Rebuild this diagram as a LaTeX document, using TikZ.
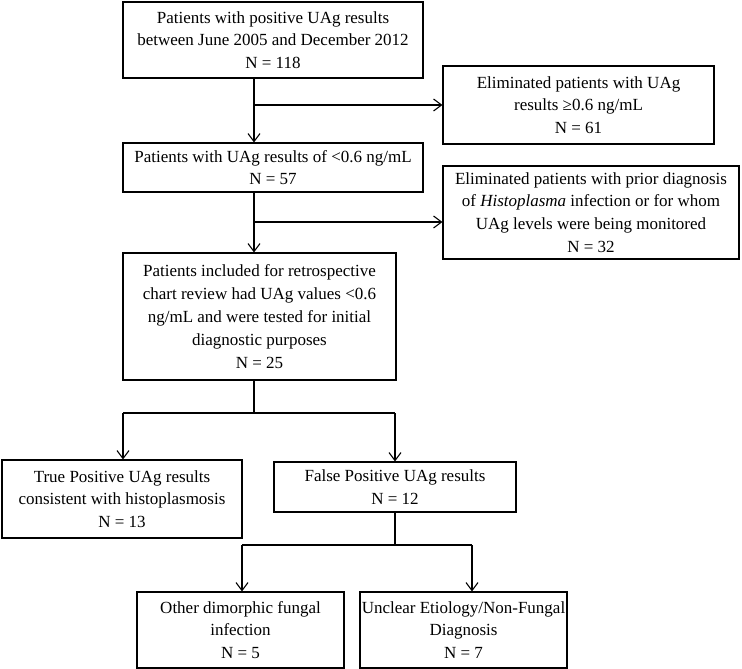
\documentclass[tikz,border=0pt]{standalone}
\usepackage{fontspec}
\setmainfont{Liberation Serif}
\usetikzlibrary{arrows.meta}
\begin{document}
\begin{tikzpicture}[x=1pt,y=-1pt,
  box/.style={draw, line width=1.1pt, align=center, inner sep=0pt,
    font=\fontsize{17}{22.8}\selectfont},
  conn/.style={line width=1.1pt},
  arr/.style={conn, -{Straight Barb[length=8pt,width=12pt]}}]
\useasboundingbox (0,0) rectangle (742,669);

\node[box, minimum width=300pt, minimum height=76pt] (b1) at (273,40)
  {Patients with positive UAg results\\between June 2005 and December 2012\\N = 118};
\node[box, minimum width=271pt, minimum height=78pt] (e1) at (578.5,105)
  {Eliminated patients with UAg\\results ≥0.6 ng/mL\\N = 61};
\node[box, minimum width=300pt, minimum height=49pt] (b2) at (273,167.5)
  {Patients with UAg results of <0.6 ng/mL\\N = 57};
\node[box, minimum width=296pt, minimum height=93pt] (e2) at (591,212.5)
  {Eliminated patients with prior diagnosis\\of \textit{Histoplasma} infection or for whom\\UAg levels were being monitored\\N = 32};
\node[box, minimum width=273pt, minimum height=127pt] (b3) at (259.5,316.5)
  {Patients included for retrospective\\chart review had UAg values <0.6\\ng/mL and were tested for initial\\diagnostic purposes\\N = 25};
\node[box, minimum width=240pt, minimum height=78pt] (tp) at (122,499)
  {True Positive UAg results\\consistent with histoplasmosis\\N = 13};
\node[box, minimum width=242pt, minimum height=50pt] (fp) at (395,487)
  {False Positive UAg results\\N = 12};
\node[box, minimum width=207pt, minimum height=76pt] (ot) at (240.5,630)
  {Other dimorphic fungal\\infection\\N = 5};
\node[box, minimum width=207pt, minimum height=76pt] (un) at (463.5,630)
  {Unclear Etiology/Non-Fungal\\Diagnosis\\N = 7};

% first stage
\coordinate (s1) at (254,78);
\coordinate (j1) at (254,105);
\draw[arr] (s1 |- b1.south) -- (s1 |- b2.north);
\draw[arr] (j1) -- (j1 -| e1.west);

% second stage
\coordinate (s2) at (254,192);
\coordinate (j2) at (254,222);
\draw[arr] (s2 |- b2.south) -- (s2 |- b3.north);
\draw[arr] (j2) -- (j2 -| e2.west);

% split after b3
\coordinate (j3) at (254,413);
\coordinate (l3) at (123,413);
\coordinate (r3) at (395,413);
\draw[conn] (j3 |- b3.south) -- (j3);
\draw[conn] (l3) -- (r3);
\draw[arr] (l3) -- (l3 |- tp.north);
\draw[arr] (r3) -- (r3 |- fp.north);

% split after fp
\coordinate (j4) at (395,545);
\coordinate (l4) at (242,545);
\coordinate (r4) at (472,545);
\draw[conn] (fp.south) -- (j4);
\draw[conn] (l4) -- (r4);
\draw[arr] (l4) -- (l4 |- ot.north);
\draw[arr] (r4) -- (r4 |- un.north);
\end{tikzpicture}
\end{document}
